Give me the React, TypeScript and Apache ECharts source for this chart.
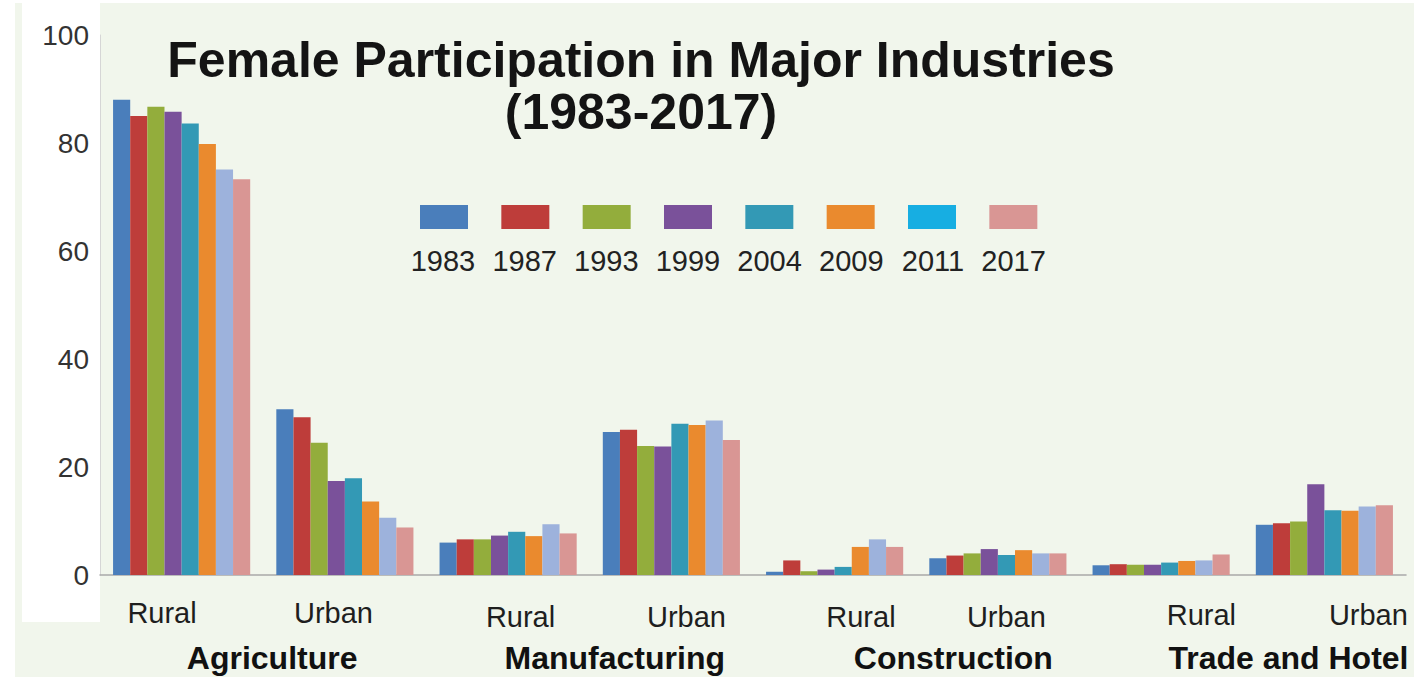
import React, { useEffect, useRef } from 'react';
import * as echarts from 'echarts';

// ---- data ----
const years = ['1983', '1987', '1993', '1999', '2004', '2009', '2011', '2017'];
const categories = ['Rural', 'Urban', 'Rural', 'Urban', 'Rural', 'Urban', 'Rural', 'Urban'];
const industries = ['Agriculture', 'Manufacturing', 'Construction', 'Trade and Hotel'];
const yTicks = [0, 20, 40, 60, 80, 100];

const v1983 = [88.0, 30.7, 6.0, 26.5, 0.6, 3.1, 1.8, 9.3];
const v1987 = [85.0, 29.2, 6.6, 26.9, 2.7, 3.6, 2.0, 9.6];
const v1993 = [86.7, 24.5, 6.6, 23.9, 0.7, 4.0, 1.9, 9.9];
const v1999 = [85.8, 17.4, 7.3, 23.8, 1.0, 4.8, 1.9, 16.8];
const v2004 = [83.6, 17.9, 8.0, 28.0, 1.5, 3.7, 2.3, 12.0];
const v2009 = [79.8, 13.6, 7.2, 27.8, 5.2, 4.6, 2.6, 11.9];
const v2011 = [75.1, 10.6, 9.4, 28.6, 6.6, 4.0, 2.7, 12.7];
const v2017 = [73.3, 8.8, 7.7, 25.0, 5.2, 4.0, 3.8, 12.9];
const seriesValues = [v1983, v1987, v1993, v1999, v2004, v2009, v2011, v2017];

// ---- styles ----
const barColors = ['#4a7ebb', '#be3d3a', '#93ad3c', '#7a519a', '#3399b5', '#ea8a2e', '#9db2dc', '#d99694'];
const legendColors = ['#4a7ebb', '#be3d3a', '#93ad3c', '#7a519a', '#3399b5', '#ea8a2e', '#17aee2', '#d99694'];

const FONT = '"Liberation Sans", Arial, Helvetica, sans-serif';

export default function App() {
  const ref = useRef<HTMLDivElement>(null);

  useEffect(() => {
    if (!ref.current) return;
    const chart = echarts.init(ref.current, null, { renderer: 'svg' });

    // label nudges (layout only)
    const catShift = [-19.6, -11.4, 12.4, 15.1, 26.3, 8.5, 40.3, 44];
    const catDrop = [0, 0, 7, 7, 7, 7, 4, 4];
    const indShift = [8.9, 25, 37.1, 45.7];

    const catRich: Record<string, any> = {};
    catShift.forEach((d, i) => {
      catRich['c' + i] = {
        fontSize: 29,
        lineHeight: 30,
        color: '#1e1e1e',
        fontFamily: FONT,
        padding: [catDrop[i], d < 0 ? -2 * d : 0, 0, d > 0 ? 2 * d : 0],
      };
    });
    const indRich: Record<string, any> = {};
    indShift.forEach((d, i) => {
      indRich['n' + i] = {
        fontSize: 32,
        lineHeight: 34,
        fontWeight: 'bold',
        color: '#111',
        fontFamily: FONT,
        padding: [0, 0, 0, 2 * d],
      };
    });

    const option: any = {
      animation: false,
      backgroundColor: '#f1f6ec',
      textStyle: { fontFamily: FONT },
      grid: { left: 100, right: 8, top: 35, bottom: 102, containLabel: false },
      graphic: [
        { type: 'rect', z: -10, silent: true, shape: { x: 0, y: 0, width: 1414, height: 3 }, style: { fill: '#ffffff' } },
        { type: 'rect', z: -10, silent: true, shape: { x: 0, y: 0, width: 15, height: 677 }, style: { fill: '#ffffff' } },
        { type: 'rect', z: -10, silent: true, shape: { x: 22, y: 3, width: 78, height: 619 }, style: { fill: '#ffffff' } },
        {
          type: 'text',
          x: 641,
          y: 34,
          silent: true,
          style: {
            text: 'Female Participation in Major Industries\n(1983-2017)',
            align: 'center',
            verticalAlign: 'top',
            textAlign: 'center',
            textVerticalAlign: 'top',
            fontFamily: FONT,
            fontSize: 50,
            fontWeight: 'bold',
            lineHeight: 52,
            fill: '#141414',
          },
        },
      ],
      legend: [
        {
          left: 420,
          top: 205,
          padding: 0,
          itemGap: 25,
          itemWidth: 48,
          itemHeight: 24,
          icon: 'rect',
          selectedMode: false,
          data: years.map((y, i) => ({ name: y, itemStyle: { color: legendColors[i] } })),
          formatter: () => ' ',
          textStyle: { fontSize: 12 },
        },
        {
          left: 403,
          top: 246,
          padding: 0,
          itemGap: 9.4,
          itemWidth: 0,
          itemHeight: 26,
          icon: 'none',
          selectedMode: false,
          data: years,
          formatter: '{t|{name}}',
          textStyle: {
            rich: { t: { width: 70, align: 'center', fontSize: 29, color: '#222', fontFamily: FONT } },
          },
        },
      ],
      xAxis: [
        {
          type: 'category',
          data: categories,
          position: 'bottom',
          axisLine: { show: true, lineStyle: { color: '#a9a9a9', width: 1.5 } },
          axisTick: { show: false },
          splitLine: { show: false },
          axisLabel: {
            interval: 0,
            margin: 23,
            formatter: (v: string, i: number) => `{c${i}|${v}}`,
            rich: catRich,
          },
        },
        {
          type: 'category',
          data: industries,
          position: 'bottom',
          axisLine: { show: false },
          axisTick: { show: false },
          splitLine: { show: false },
          axisLabel: {
            interval: 0,
            margin: 66,
            formatter: (v: string, i: number) => `{n${i}|${v}}`,
            rich: indRich,
          },
        },
      ],
      yAxis: {
        type: 'value',
        min: yTicks[0],
        max: yTicks[yTicks.length - 1],
        interval: yTicks[1] - yTicks[0],
        axisLine: { show: true, lineStyle: { color: '#d6d6d6', width: 1 } },
        axisTick: { show: false },
        splitLine: { show: false },
        axisLabel: { fontSize: 28, color: '#333', margin: 11, fontFamily: FONT },
      },
      series: years.map((y, i) => ({
        name: y,
        type: 'bar',
        xAxisIndex: 0,
        data: seriesValues[i],
        barGap: '0%',
        barCategoryGap: '16%',
        itemStyle: { color: barColors[i] },
      })),
    };

    chart.setOption(option);
    return () => chart.dispose();
  }, []);

  return <div ref={ref} style={{ position: 'fixed', left: 0, top: 0, width: 1414, height: 677 }} />;
}
